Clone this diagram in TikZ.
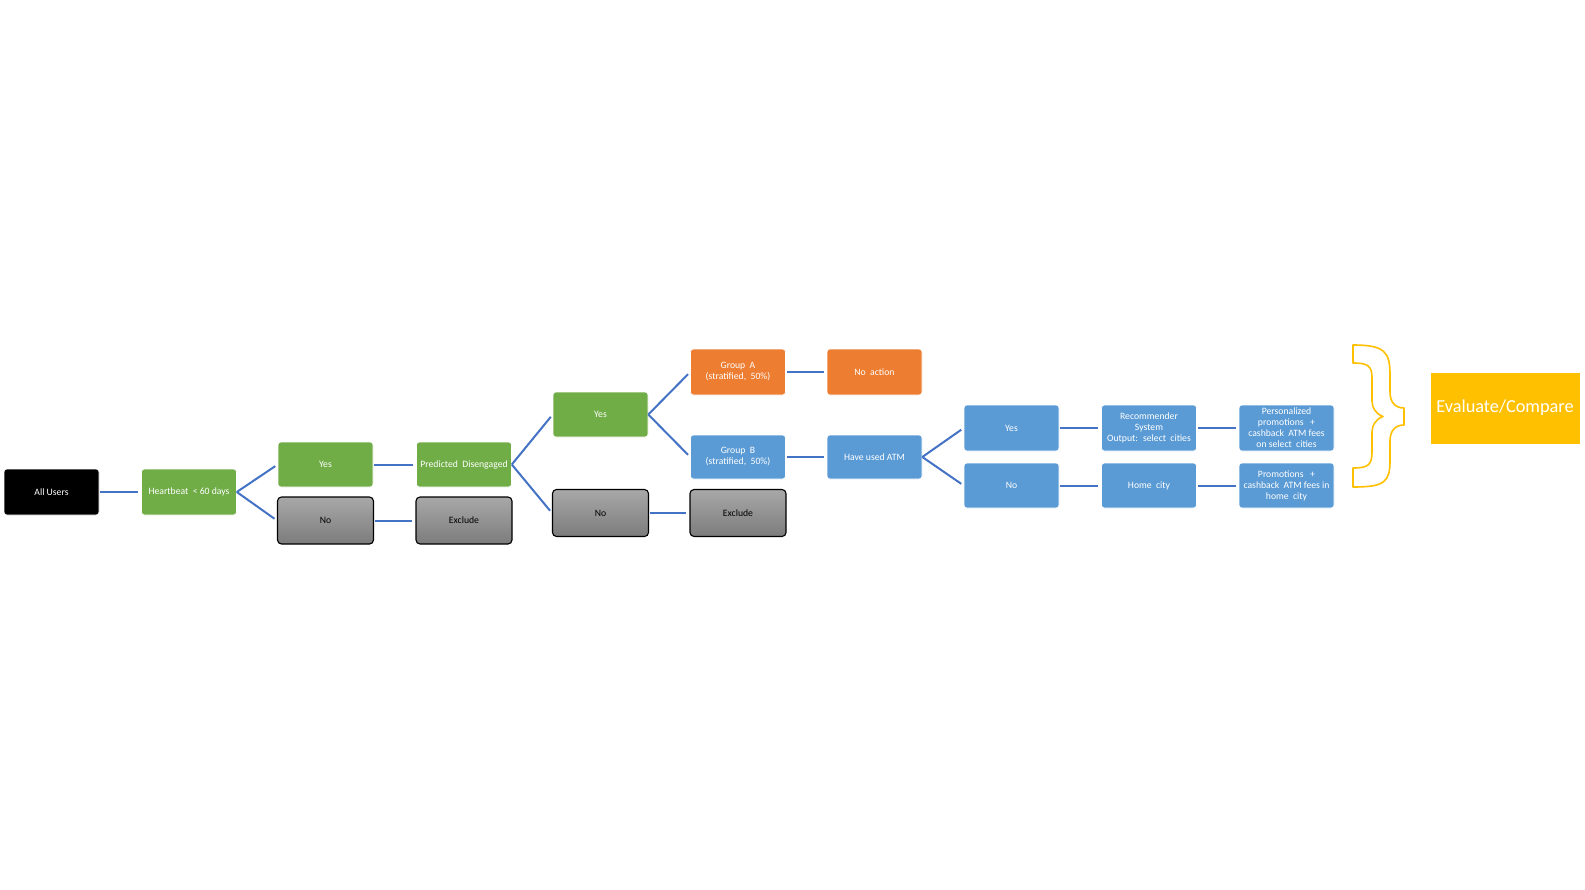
\documentclass[tikz,border=0pt]{standalone}
\usepackage{fontspec}
\setmainfont{Carlito}
\definecolor{cgreen}{HTML}{70AD47}
\definecolor{corange}{HTML}{ED7D31}
\definecolor{cblue}{HTML}{5B9BD5}
\definecolor{cgold}{HTML}{FFC000}
\definecolor{cline}{HTML}{4472C4}
\definecolor{gtop}{HTML}{A8A8A8}
\definecolor{gbot}{HTML}{7C7C7C}
\begin{document}
\begin{tikzpicture}[x=1pt,y=-1pt,
  box/.style={rectangle, rounded corners=3pt, minimum width=95pt, minimum height=46pt,
    inner sep=1pt, align=center, font=\fontsize{9.7}{11}\selectfont, text=white, draw=white, line width=0.6pt},
  gbox/.style={box, fill=cgreen},
  obox/.style={box, fill=corange},
  bbox/.style={box, fill=cblue},
  kbox/.style={box, fill=black},
  greybox/.style={box, draw=black, line width=1.1pt, rounded corners=4pt, text=black,
    top color=gtop, bottom color=gbot, minimum width=96pt, minimum height=47pt},
  conn/.style={draw=cline, line width=2pt, shorten <=1pt, shorten >=3pt},
]
\useasboundingbox[fill=white] (0,0) rectangle (1585,889);

\node[kbox] (all) at (51.5,492) {All Users};
\node[gbox] (heart) at (189,492) {Heartbeat~ \textless{} 60 days};
\node[gbox, minimum height=45pt] (yes1) at (325.5,464.5) {Yes};
\node[greybox] (no1) at (325.5,520.5) {No};
\node[gbox, minimum height=45pt] (pred) at (464,464.5) {Predicted~ Disengaged};
\node[greybox] (excl1) at (464,520.5) {Exclude};

\node[gbox, minimum height=45pt] (yes2) at (600.5,414.5) {Yes};
\node[greybox] (no2) at (600.5,513) {No};
\node[greybox] (excl2) at (738,513) {Exclude};

\node[obox] (grpA) at (738,372) {Group~ A\\(stratified,~ 50\%)};
\node[obox] (noact) at (874.5,372) {No~ action};
\node[bbox, minimum height=44pt] (grpB) at (738,457) {Group~ B\\(stratified,~ 50\%)};
\node[bbox, minimum height=44pt] (atm) at (874.5,457) {Have used ATM};

\node[bbox] (yes3) at (1011.5,428) {Yes};
\node[bbox, minimum height=45pt] (no3) at (1011.5,485.5) {No};
\node[bbox] (rec) at (1149,428) {Recommender\\System\\Output:~ select~ cities};
\node[bbox, minimum height=45pt] (home) at (1149,485.5) {Home~ city};
\node[bbox] (pers) at (1286.5,428) {Personalized\\promotions~~ +\\cashback~ ATM fees\\on select~ cities};
\node[bbox, minimum height=45pt] (promo) at (1286.5,485.5) {Promotions~~ +\\cashback~ ATM fees in\\home~ city};

\node[rectangle, fill=cgold, draw=white, line width=0.6pt, minimum width=150pt, minimum height=72pt,
  text=white, font=\fontsize{18.3}{22}\selectfont, inner sep=0pt] (eval) at (1505,408) {Evaluate/Compare};

\path[conn] (all.east) -- (heart.west);
\path[conn, shorten <=0pt] (heart.east) -- (yes1.west);
\path[conn, shorten <=0pt] (heart.east) -- (no1.west);
\path[conn] (yes1.east) -- (pred.west);
\path[conn] (no1.east) -- (excl1.west);
\path[conn, shorten <=0pt] (pred.east) -- (yes2.west);
\path[conn, shorten <=0pt] (pred.east) -- (no2.west);
\path[conn] (no2.east) -- (excl2.west);
\path[conn, shorten <=0pt] (yes2.east) -- (grpA.west);
\path[conn, shorten <=0pt] (yes2.east) -- (grpB.west);
\path[conn] (grpA.east) -- (noact.west);
\path[conn] (grpB.east) -- (atm.west);
\path[conn, shorten <=0pt] (atm.east) -- (yes3.west);
\path[conn, shorten <=0pt] (atm.east) -- (no3.west);
\path[conn] (yes3.east) -- (rec.west);
\path[conn] (no3.east) -- (home.west);
\path[conn] (rec.east) -- (pers.west);
\path[conn] (home.east) -- (promo.west);

\draw[cgold, line width=1.6pt, line join=round]
  (1353,345) .. controls (1385,345) and (1390,352) .. (1390,375) -- (1390,392)
  .. controls (1390,402) and (1395,408) .. (1404,408) -- (1404,425)
  .. controls (1395,425) and (1390,431) .. (1390,441) -- (1390,460)
  .. controls (1390,482) and (1385,487) .. (1353,487) -- (1353,468)
  .. controls (1368,468) and (1372,465) .. (1372,452) -- (1372,432)
  .. controls (1372,425) and (1376,419) .. (1383,416.5)
  .. controls (1376,414) and (1372,408) .. (1372,401) -- (1372,378)
  .. controls (1372,366) and (1368,363) .. (1353,363) -- cycle;
\end{tikzpicture}
\end{document}
